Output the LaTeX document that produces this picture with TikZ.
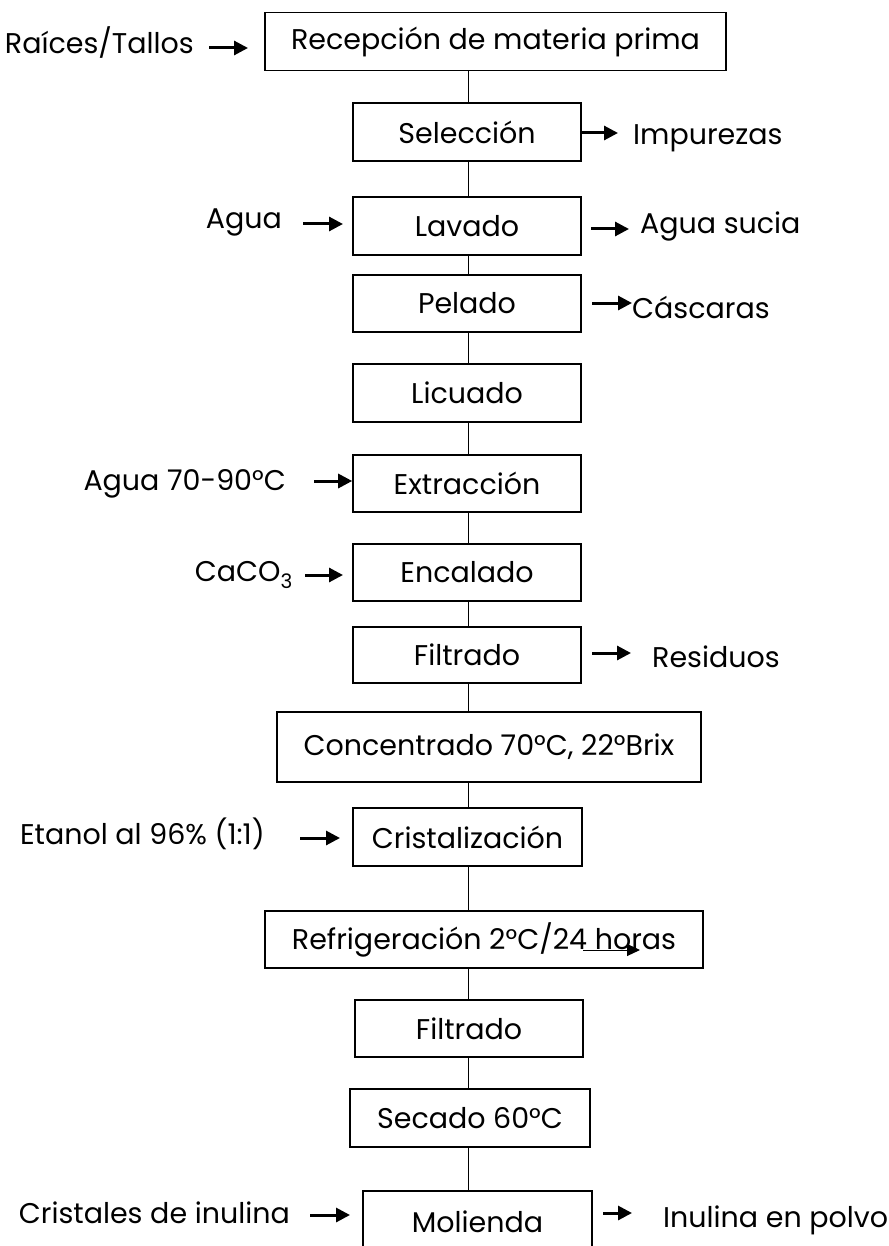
\documentclass[tikz,border=0pt]{standalone}
\usepackage{fontspec}
\setmainfont{Poppins}
\usetikzlibrary{arrows.meta}
\begin{document}
\begin{tikzpicture}[x=1pt,y=-1pt,
  txt/.style={font=\fontsize{28.5}{32}\selectfont},
  box/.style={draw, line width=1.6pt, minimum height=58pt, inner sep=0pt, txt},
  lbl/.style={inner sep=0pt, txt},
  flow/.style={line width=0.9pt},
  arr/.style={line width=3pt, -{Triangle[length=14pt,width=14pt]}},
  thinarr/.style={line width=1pt, -{Triangle[length=13pt,width=12pt]}}]
\clip (0,0) rectangle (888,1246);
\fill[white] (0,0) rectangle (888,1246);
\coordinate (axis) at (468,0);
% boxes
\node[box, minimum width=461pt] (rec) at (495.5,41.7) {Recepción de materia prima};
\node[box, minimum width=228pt] (sel) at (467,132) {Selección};
\node[box, minimum width=228pt] (lav) at (467,226) {Lavado};
\node[box, minimum width=228pt, minimum height=57pt] (pel) at (467,303.5) {Pelado};
\node[box, minimum width=228pt] (lic) at (467,393) {Licuado};
\node[box, minimum width=228pt, minimum height=57pt] (ext) at (467,483.5) {Extracción};
\node[box, minimum width=228pt, minimum height=57pt] (enc) at (467,572.5) {Encalado};
\node[box, minimum width=228pt, minimum height=56pt] (fil) at (467,655) {Filtrado};
\node[box, minimum width=424pt, minimum height=70pt] (con) at (489,747) {Concentrado 70°C, 22°Brix};
\node[box, minimum width=229pt] (cri) at (467.5,837) {Cristalización};
\node[box, minimum width=438pt, minimum height=57pt] (ref) at (484,939.5) {Refrigeración 2°C/24 horas};
\node[box, minimum width=228pt, minimum height=57pt] (fil2) at (469,1028.5) {Filtrado};
\node[box, minimum width=240pt] (sec) at (470,1118) {Secado 60°C};
\node[box, minimum width=229pt, minimum height=70pt, text depth=0pt] (mol) at (477.5,1226) {};
\node[lbl] (moltxt) at (477.5,1222) {Molienda};
% vertical flow
\foreach \a/\b in {rec/sel, sel/lav, lav/pel, pel/lic, lic/ext, ext/enc, enc/fil, fil/con, con/cri, cri/ref, ref/fil2, fil2/sec, sec/mol}
  \draw[flow] (\a.south -| axis) -- (\b.north -| axis);
% side labels
\node[lbl, anchor=east] (raices) at (194,43) {Raíces/Tallos};
\node[lbl, anchor=west] (impur) at (633,138) {Impurezas};
\node[lbl, anchor=east] (agua) at (282,222) {Agua};
\node[lbl, anchor=west] (sucia) at (640,227) {Agua sucia};
\node[lbl, anchor=west] (casc) at (632,307) {Cáscaras};
\node[lbl, anchor=east] (agua2) at (286,484) {Agua 70-90°C};
\node[lbl, anchor=east] (caco) at (293,575) {CaCO\textsubscript{3}};
\node[lbl, anchor=west] (resid) at (652,657) {Residuos};
\node[lbl, anchor=east] (etanol) at (265,834) {Etanol al 96\% (1:1)};
\node[lbl, anchor=east] (crist) at (290,1213) {Cristales de inulina};
\node[lbl, anchor=west] (inpol) at (663,1220) {Inulina en polvo};
% arrow ends
\coordinate (r1) at (209,48);   \coordinate (r2) at (248,48);
\coordinate (i1) at (582,133);  \coordinate (i2) at (618,133);
\coordinate (a1) at (303,224);  \coordinate (a2) at (343,224);
\coordinate (s1) at (591,229);  \coordinate (s2) at (629,229);
\coordinate (c1) at (592,303);  \coordinate (c2) at (632,303);
\coordinate (e1) at (314,481);
\coordinate (k1) at (305,575);  \coordinate (k2) at (343,575);
\coordinate (d1) at (592,653);  \coordinate (d2) at (631,653);
\coordinate (t1) at (300,838);  \coordinate (t2) at (340,838);
\coordinate (h1) at (583,950);  \coordinate (h2) at (640,950);
\coordinate (m1) at (310,1215); \coordinate (m2) at (350,1215);
\coordinate (p1) at (603,1213); \coordinate (p2) at (632,1213);
\draw[arr] (r1) -- (r2);
\draw[arr] (i1) -- (i2);
\draw[arr] (a1) -- (a2);
\draw[arr] (s1) -- (s2);
\draw[arr] (c1) -- (c2);
\draw[arr] (e1) -- (ext.west |- e1);
\draw[arr] (k1) -- (k2);
\draw[arr] (d1) -- (d2);
\draw[arr] (t1) -- (t2);
\draw[thinarr] (h1) -- (h2);
\draw[arr] (m1) -- (m2);
\draw[arr] (p1) -- (p2);
\end{tikzpicture}
\end{document}
